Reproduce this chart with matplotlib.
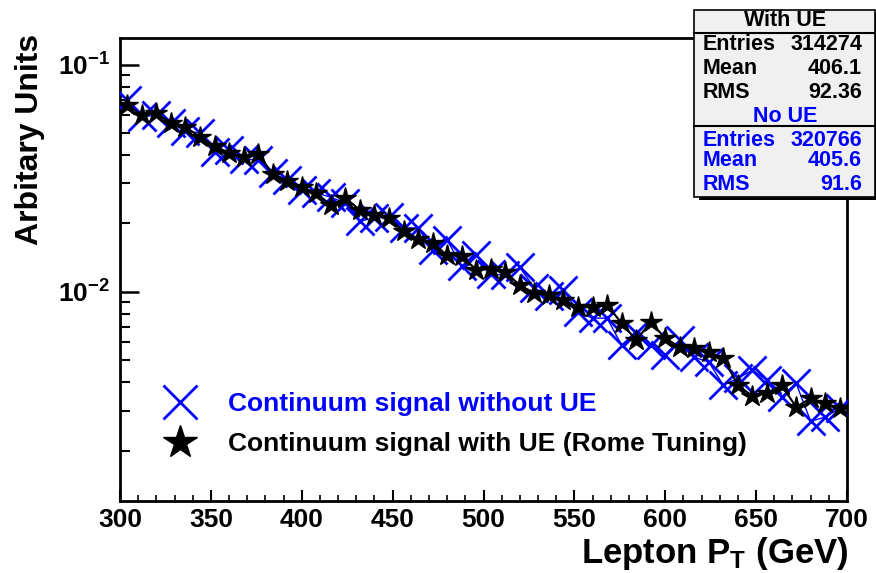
import matplotlib
matplotlib.use("Agg")
import matplotlib.pyplot as plt
import numpy as np
from matplotlib.lines import Line2D
from matplotlib.patches import Rectangle
from matplotlib.ticker import FixedLocator, MultipleLocator, FuncFormatter

plt.rcParams['font.family'] = ['Liberation Sans', 'DejaVu Sans']
plt.rcParams['font.weight'] = 'bold'
plt.rcParams['mathtext.fontset'] = 'custom'
plt.rcParams['mathtext.rm'] = 'Liberation Sans:bold'
plt.rcParams['mathtext.bf'] = 'Liberation Sans:bold'
plt.rcParams['mathtext.default'] = 'rm'

# bin centres (8 GeV bins from 300 to 700)
pt_centres = [304, 312, 320, 328, 336, 344, 352, 360, 368, 376,
              384, 392, 400, 408, 416, 424, 432, 440, 448, 456,
              464, 472, 480, 488, 496, 504, 512, 520, 528, 536,
              544, 552, 560, 568, 576, 584, 592, 600, 608, 616,
              624, 632, 640, 648, 656, 664, 672, 680, 688, 696]

# continuum signal with UE (Rome tuning), stars
with_ue = [0.0664, 0.0600, 0.0613, 0.0554, 0.0532, 0.0480, 0.0439, 0.0408, 0.0392, 0.0404,
           0.0330, 0.0307, 0.0289, 0.0272, 0.0241, 0.0259, 0.0229, 0.0218, 0.0211, 0.0185,
           0.0171, 0.0164, 0.0145, 0.0144, 0.0125, 0.0126, 0.0122, 0.0107, 0.00987, 0.00967,
           0.00919, 0.00856, 0.00856, 0.00874, 0.00728, 0.00613, 0.00736, 0.00625, 0.00571, 0.00565,
           0.00543, 0.00510, 0.00388, 0.00347, 0.00358, 0.00388, 0.00311, 0.00340, 0.00323, 0.00307]

# continuum signal without UE, crosses
no_ue = [0.0699, 0.0588, 0.0600, 0.0554, 0.0511, 0.0500, 0.0413, 0.0421, 0.0384, 0.0380,
         0.0333, 0.0311, 0.0281, 0.0272, 0.0261, 0.0246, 0.0205, 0.0211, 0.0213, 0.0191,
         0.0191, 0.0153, 0.0169, 0.0130, 0.0145, 0.0120, 0.0118, 0.0128, 0.0104, 0.00957,
         0.0102, 0.00814, 0.00766, 0.00766, 0.00582, 0.00658, 0.00582, 0.00526, 0.00613, 0.00516,
         0.00490, 0.00388, 0.00417, 0.00452, 0.00408, 0.00344, 0.00396, 0.00269, 0.00281, 0.00307]

stats_with = [("Entries", "314274"), ("Mean", "406.1"), ("RMS", "92.36")]
stats_no = [("Entries", "320766"), ("Mean", "405.6"), ("RMS", "91.6")]

W, H = 876, 573
fig = plt.figure(figsize=(W / 100, H / 100), dpi=100)
ax = fig.add_axes([120 / W, 1 - 501 / H, (847 - 120) / W, (501 - 38) / H])

ax.plot(pt_centres, no_ue, color='#0000ff', lw=1.0, marker='x', ms=20, mew=2.0,
        linestyle='-', zorder=3)
ax.plot(pt_centres, with_ue, color='black', lw=1.5, marker='*', ms=16,
        linestyle='-', zorder=4)

ax.set_yscale('log')
ax.set_xlim(300, 700)
ax.set_ylim(0.0012, 0.131)

ax.xaxis.set_major_locator(MultipleLocator(50))
ax.xaxis.set_minor_locator(MultipleLocator(10))
ax.yaxis.set_major_locator(FixedLocator([0.01, 0.1]))
minors = [m * 10.0 ** e for e in (-3, -2, -1) for m in range(2, 10)]
ax.yaxis.set_minor_locator(FixedLocator(minors))
ax.yaxis.set_major_formatter(FuncFormatter(lambda v, p: r'$10^{%d}$' % round(np.log10(v))))
ax.yaxis.set_minor_formatter(FuncFormatter(lambda v, p: ''))

ax.tick_params(axis='x', which='major', direction='in', length=8, width=1.5,
               labelsize=19, pad=5, top=False)
ax.tick_params(axis='x', which='minor', direction='in', length=4, width=1.2, top=False)
ax.tick_params(axis='y', which='major', direction='in', length=14, width=1.8,
               labelsize=19, pad=7, right=False)
ax.tick_params(axis='y', which='minor', direction='in', length=7, width=1.5, right=False)
for lab in ax.get_xticklabels() + ax.get_yticklabels():
    lab.set_fontweight('bold')
for sp in ax.spines.values():
    sp.set_linewidth(2.0)

fig.text(848 / W, 1 - 553 / H, r'Lepton P$_{T}$ (GeV)', ha='right', va='center',
         fontsize=25, fontweight='bold')
fig.text(30 / W, 1 - 34 / H, 'Arbitary Units', ha='center', va='top', rotation=90,
         fontsize=23, fontweight='bold')

handles = [Line2D([], [], color='#0000ff', marker='x', ms=25, mew=2.0, linestyle='none'),
           Line2D([], [], color='black', marker='*', ms=25, linestyle='none')]
leg = ax.legend(handles, ['Continuum signal without UE', 'Continuum signal with UE (Rome Tuning)'],
                loc='upper left', bbox_to_anchor=(0.0553, 0.235), frameon=False,
                prop={'size': 19, 'weight': 'bold'}, labelcolor=['#0000ff', 'black'],
                handlelength=1.5, handletextpad=1.07, labelspacing=0.6, borderpad=0,
                borderaxespad=0)

# stats box
bx0, bx1, by0, by1 = 694, 875, 10, 197
shadow = Rectangle(((bx0 + 5) / W, 1 - (by1 + 3) / H), (bx1 - bx0) / W, (by1 - by0) / H,
                   transform=fig.transFigure, facecolor='black', edgecolor='none', zorder=5)
box = Rectangle((bx0 / W, 1 - by1 / H), (bx1 - bx0) / W, (by1 - by0) / H,
                transform=fig.transFigure, facecolor='#f0f0f0', edgecolor='black',
                lw=1.2, zorder=6)
fig.patches.extend([shadow, box])
for yl in (33, 126):
    fig.add_artist(Line2D([bx0 / W, bx1 / W], [1 - yl / H, 1 - yl / H],
                          transform=fig.transFigure, color='black', lw=1.5, zorder=7))

fs = 15.5
fig.text(785 / W, 1 - 21 / H, 'With UE', ha='center', va='center', fontsize=fs,
         fontweight='bold', zorder=8)
for (name, val), yp in zip(stats_with, (45, 69, 92)):
    fig.text(703 / W, 1 - yp / H, name, ha='left', va='center', fontsize=fs,
             fontweight='bold', zorder=8)
    fig.text(862 / W, 1 - yp / H, val, ha='right', va='center', fontsize=fs,
             fontweight='bold', zorder=8)
fig.text(785 / W, 1 - 116 / H, 'No UE', ha='center', va='center', fontsize=fs,
         fontweight='bold', color='#0000ff', zorder=8)
for (name, val), yp in zip(stats_no, (140, 161, 184)):
    fig.text(703 / W, 1 - yp / H, name, ha='left', va='center', fontsize=fs,
             fontweight='bold', color='#0000ff', zorder=8)
    fig.text(862 / W, 1 - yp / H, val, ha='right', va='center', fontsize=fs,
             fontweight='bold', color='#0000ff', zorder=8)

fig.savefig('out.png', dpi=100)
